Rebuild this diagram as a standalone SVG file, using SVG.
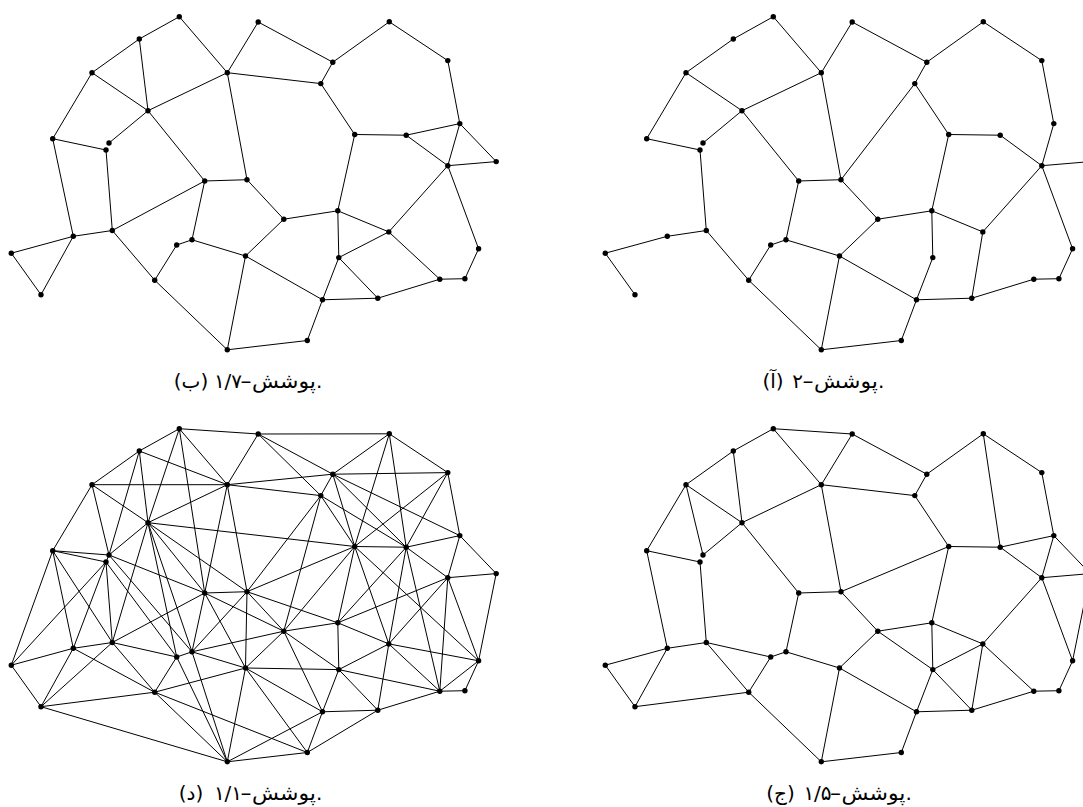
<svg xmlns="http://www.w3.org/2000/svg" width="1083" height="807" viewBox="0 0 1083 807">
<style>
.e line{stroke:#000;stroke-width:1;stroke-linecap:round}
.cap text{font-family:"DejaVu Sans",sans-serif;font-size:20px;fill:#000}
.m{text-anchor:middle}
.s{text-anchor:start}
</style>
<defs>
<circle id="dot" r="2.7" fill="#000"/>
</defs>
<rect width="1083" height="807" fill="#fff"/>

<!-- (b) 1.7 -->
<g id="panel-b">
<g id="edges-b" class="e">
<line x1="179.3" y1="16.7" x2="139.3" y2="39"/><line x1="179.3" y1="16.7" x2="227.3" y2="72.7"/><line x1="139.3" y1="39" x2="92" y2="72.7"/><line x1="139.3" y1="39" x2="148" y2="110.7"/><line x1="92" y1="72.7" x2="148" y2="110.7"/><line x1="92" y1="72.7" x2="52.7" y2="138.7"/><line x1="148" y1="110.7" x2="227.3" y2="72.7"/><line x1="148" y1="110.7" x2="109" y2="143"/><line x1="148" y1="110.7" x2="204.7" y2="181"/><line x1="227.3" y1="72.7" x2="258.2" y2="22"/><line x1="227.3" y1="72.7" x2="247" y2="179.7"/><line x1="227.3" y1="72.7" x2="320.8" y2="83.6"/><line x1="258.2" y1="22" x2="332.8" y2="62.2"/><line x1="332.8" y1="62.2" x2="389.3" y2="21.8"/><line x1="332.8" y1="62.2" x2="320.8" y2="83.6"/><line x1="389.3" y1="21.8" x2="447.8" y2="60.6"/><line x1="447.8" y1="60.6" x2="459.8" y2="123.6"/><line x1="320.8" y1="83.6" x2="354.7" y2="134.5"/><line x1="354.7" y1="134.5" x2="406.2" y2="135.2"/><line x1="406.2" y1="135.2" x2="459.8" y2="123.6"/><line x1="406.2" y1="135.2" x2="447.8" y2="165.7"/><line x1="459.8" y1="123.6" x2="447.8" y2="165.7"/><line x1="459.8" y1="123.6" x2="496.2" y2="161.6"/><line x1="447.8" y1="165.7" x2="496.2" y2="161.6"/><line x1="447.8" y1="165.7" x2="388.8" y2="231.9"/><line x1="447.8" y1="165.7" x2="478.6" y2="248.8"/><line x1="52.7" y1="138.7" x2="106" y2="150"/><line x1="52.7" y1="138.7" x2="73.3" y2="236.3"/><line x1="106" y1="150" x2="112.3" y2="230.5"/><line x1="204.7" y1="181" x2="247" y2="179.7"/><line x1="247" y1="179.7" x2="283.8" y2="219.2"/><line x1="73.3" y1="236.3" x2="112.3" y2="230.5"/><line x1="73.3" y1="236.3" x2="11.3" y2="253.2"/><line x1="73.3" y1="236.3" x2="41" y2="294.7"/><line x1="11.3" y1="253.2" x2="41" y2="294.7"/><line x1="112.3" y1="230.5" x2="204.7" y2="181"/><line x1="112.3" y1="230.5" x2="154.7" y2="280.2"/><line x1="154.7" y1="280.2" x2="176.7" y2="245"/><line x1="176.7" y1="245" x2="192" y2="239.8"/><line x1="192" y1="239.8" x2="204.7" y2="181"/><line x1="192" y1="239.8" x2="245.5" y2="256"/><line x1="245.5" y1="256" x2="227.3" y2="349.8"/><line x1="154.7" y1="280.2" x2="227.3" y2="349.8"/><line x1="227.3" y1="349.8" x2="307.3" y2="340.5"/><line x1="245.5" y1="256" x2="283.8" y2="219.2"/><line x1="245.5" y1="256" x2="322.5" y2="299.8"/><line x1="283.8" y1="219.2" x2="337.8" y2="210.8"/><line x1="337.8" y1="210.8" x2="354.7" y2="134.5"/><line x1="337.8" y1="210.8" x2="388.8" y2="231.9"/><line x1="337.8" y1="210.8" x2="338.8" y2="257.6"/><line x1="388.8" y1="231.9" x2="338.8" y2="257.6"/><line x1="388.8" y1="231.9" x2="439.8" y2="279.2"/><line x1="478.6" y1="248.8" x2="464.9" y2="278.7"/><line x1="464.9" y1="278.7" x2="439.8" y2="279.2"/><line x1="439.8" y1="279.2" x2="377.8" y2="298.2"/><line x1="377.8" y1="298.2" x2="338.8" y2="257.6"/><line x1="338.8" y1="257.6" x2="322.5" y2="299.8"/><line x1="322.5" y1="299.8" x2="377.8" y2="298.2"/><line x1="322.5" y1="299.8" x2="307.3" y2="340.5"/>
</g>
<g id="nodes-b">
<g id="b-A"><use href="#dot" x="179.3" y="16.7"/></g><g id="b-B"><use href="#dot" x="139.3" y="39"/></g><g id="b-C"><use href="#dot" x="92" y="72.7"/></g><g id="b-D"><use href="#dot" x="148" y="110.7"/></g><g id="b-E"><use href="#dot" x="227.3" y="72.7"/></g><g id="b-F"><use href="#dot" x="258.2" y="22"/></g><g id="b-G"><use href="#dot" x="52.7" y="138.7"/></g><g id="b-H"><use href="#dot" x="109" y="143"/></g><g id="b-I"><use href="#dot" x="106" y="150"/></g><g id="b-J"><use href="#dot" x="204.7" y="181"/></g><g id="b-K"><use href="#dot" x="247" y="179.7"/></g><g id="b-L"><use href="#dot" x="332.8" y="62.2"/></g><g id="b-M"><use href="#dot" x="320.8" y="83.6"/></g><g id="b-N"><use href="#dot" x="389.3" y="21.8"/></g><g id="b-O"><use href="#dot" x="447.8" y="60.6"/></g><g id="b-P"><use href="#dot" x="354.7" y="134.5"/></g><g id="b-Q"><use href="#dot" x="406.2" y="135.2"/></g><g id="b-R"><use href="#dot" x="459.8" y="123.6"/></g><g id="b-S"><use href="#dot" x="447.8" y="165.7"/></g><g id="b-T"><use href="#dot" x="496.2" y="161.6"/></g><g id="b-U"><use href="#dot" x="73.3" y="236.3"/></g><g id="b-V"><use href="#dot" x="112.3" y="230.5"/></g><g id="b-W"><use href="#dot" x="11.3" y="253.2"/></g><g id="b-X"><use href="#dot" x="41" y="294.7"/></g><g id="b-Y"><use href="#dot" x="192" y="239.8"/></g><g id="b-Z"><use href="#dot" x="176.7" y="245"/></g><g id="b-AA"><use href="#dot" x="154.7" y="280.2"/></g><g id="b-AB"><use href="#dot" x="245.5" y="256"/></g><g id="b-AC"><use href="#dot" x="227.3" y="349.8"/></g><g id="b-AD"><use href="#dot" x="283.8" y="219.2"/></g><g id="b-AE"><use href="#dot" x="337.8" y="210.8"/></g><g id="b-AF"><use href="#dot" x="388.8" y="231.9"/></g><g id="b-AG"><use href="#dot" x="338.8" y="257.6"/></g><g id="b-AH"><use href="#dot" x="478.6" y="248.8"/></g><g id="b-AI"><use href="#dot" x="439.8" y="279.2"/></g><g id="b-AJ"><use href="#dot" x="464.9" y="278.7"/></g><g id="b-AK"><use href="#dot" x="322.5" y="299.8"/></g><g id="b-AL"><use href="#dot" x="377.8" y="298.2"/></g><g id="b-AM"><use href="#dot" x="307.3" y="340.5"/></g>
</g>
<g id="caption-b" class="cap">
<text class="m" x="191" y="388">(ب)</text><text class="m" x="228" y="388">۱/۷</text><text class="s" x="240" y="388" textLength="12" lengthAdjust="spacingAndGlyphs">-</text><text class="s" x="252" y="388" textLength="64" lengthAdjust="spacingAndGlyphs">پوشش</text><text class="s" x="316" y="388">.</text>
</g>
</g>

<!-- (a) 2 -->
<g id="panel-a">
<g id="edges-a" class="e" transform="translate(594,0)">
<line x1="179.3" y1="16.7" x2="139.3" y2="39"/><line x1="179.3" y1="16.7" x2="227.3" y2="72.7"/><line x1="139.3" y1="39" x2="92" y2="72.7"/><line x1="92" y1="72.7" x2="148" y2="110.7"/><line x1="92" y1="72.7" x2="52.7" y2="138.7"/><line x1="148" y1="110.7" x2="227.3" y2="72.7"/><line x1="148" y1="110.7" x2="109" y2="143"/><line x1="148" y1="110.7" x2="204.7" y2="181"/><line x1="227.3" y1="72.7" x2="258.2" y2="22"/><line x1="227.3" y1="72.7" x2="247" y2="179.7"/><line x1="258.2" y1="22" x2="332.8" y2="62.2"/><line x1="332.8" y1="62.2" x2="389.3" y2="21.8"/><line x1="332.8" y1="62.2" x2="320.8" y2="83.6"/><line x1="389.3" y1="21.8" x2="447.8" y2="60.6"/><line x1="447.8" y1="60.6" x2="459.8" y2="123.6"/><line x1="320.8" y1="83.6" x2="354.7" y2="134.5"/><line x1="320.8" y1="83.6" x2="247" y2="179.7"/><line x1="354.7" y1="134.5" x2="406.2" y2="135.2"/><line x1="406.2" y1="135.2" x2="447.8" y2="165.7"/><line x1="459.8" y1="123.6" x2="447.8" y2="165.7"/><line x1="447.8" y1="165.7" x2="496.2" y2="161.6"/><line x1="447.8" y1="165.7" x2="388.8" y2="231.9"/><line x1="447.8" y1="165.7" x2="478.6" y2="248.8"/><line x1="52.7" y1="138.7" x2="106" y2="150"/><line x1="106" y1="150" x2="112.3" y2="230.5"/><line x1="204.7" y1="181" x2="247" y2="179.7"/><line x1="204.7" y1="181" x2="192" y2="239.8"/><line x1="192" y1="239.8" x2="176.7" y2="245"/><line x1="176.7" y1="245" x2="154.7" y2="280.2"/><line x1="192" y1="239.8" x2="245.5" y2="256"/><line x1="154.7" y1="280.2" x2="112.3" y2="230.5"/><line x1="112.3" y1="230.5" x2="73.3" y2="236.3"/><line x1="73.3" y1="236.3" x2="11.3" y2="253.2"/><line x1="11.3" y1="253.2" x2="41" y2="294.7"/><line x1="154.7" y1="280.2" x2="227.3" y2="349.8"/><line x1="227.3" y1="349.8" x2="245.5" y2="256"/><line x1="227.3" y1="349.8" x2="307.3" y2="340.5"/><line x1="247" y1="179.7" x2="283.8" y2="219.2"/><line x1="354.7" y1="134.5" x2="337.8" y2="210.8"/><line x1="283.8" y1="219.2" x2="337.8" y2="210.8"/><line x1="337.8" y1="210.8" x2="388.8" y2="231.9"/><line x1="337.8" y1="210.8" x2="338.8" y2="257.6"/><line x1="338.8" y1="257.6" x2="322.5" y2="299.8"/><line x1="245.5" y1="256" x2="283.8" y2="219.2"/><line x1="245.5" y1="256" x2="322.5" y2="299.8"/><line x1="322.5" y1="299.8" x2="377.8" y2="298.2"/><line x1="388.8" y1="231.9" x2="377.8" y2="298.2"/><line x1="377.8" y1="298.2" x2="439.8" y2="279.2"/><line x1="439.8" y1="279.2" x2="464.9" y2="278.7"/><line x1="464.9" y1="278.7" x2="478.6" y2="248.8"/><line x1="322.5" y1="299.8" x2="307.3" y2="340.5"/>
</g>
<g id="nodes-a" transform="translate(594,0)">
<g id="a-A"><use href="#dot" x="179.3" y="16.7"/></g><g id="a-B"><use href="#dot" x="139.3" y="39"/></g><g id="a-C"><use href="#dot" x="92" y="72.7"/></g><g id="a-D"><use href="#dot" x="148" y="110.7"/></g><g id="a-E"><use href="#dot" x="227.3" y="72.7"/></g><g id="a-F"><use href="#dot" x="258.2" y="22"/></g><g id="a-G"><use href="#dot" x="52.7" y="138.7"/></g><g id="a-H"><use href="#dot" x="109" y="143"/></g><g id="a-I"><use href="#dot" x="106" y="150"/></g><g id="a-J"><use href="#dot" x="204.7" y="181"/></g><g id="a-K"><use href="#dot" x="247" y="179.7"/></g><g id="a-L"><use href="#dot" x="332.8" y="62.2"/></g><g id="a-M"><use href="#dot" x="320.8" y="83.6"/></g><g id="a-N"><use href="#dot" x="389.3" y="21.8"/></g><g id="a-O"><use href="#dot" x="447.8" y="60.6"/></g><g id="a-P"><use href="#dot" x="354.7" y="134.5"/></g><g id="a-Q"><use href="#dot" x="406.2" y="135.2"/></g><g id="a-R"><use href="#dot" x="459.8" y="123.6"/></g><g id="a-S"><use href="#dot" x="447.8" y="165.7"/></g><g id="a-T"><use href="#dot" x="496.2" y="161.6"/></g><g id="a-U"><use href="#dot" x="73.3" y="236.3"/></g><g id="a-V"><use href="#dot" x="112.3" y="230.5"/></g><g id="a-W"><use href="#dot" x="11.3" y="253.2"/></g><g id="a-X"><use href="#dot" x="41" y="294.7"/></g><g id="a-Y"><use href="#dot" x="192" y="239.8"/></g><g id="a-Z"><use href="#dot" x="176.7" y="245"/></g><g id="a-AA"><use href="#dot" x="154.7" y="280.2"/></g><g id="a-AB"><use href="#dot" x="245.5" y="256"/></g><g id="a-AC"><use href="#dot" x="227.3" y="349.8"/></g><g id="a-AD"><use href="#dot" x="283.8" y="219.2"/></g><g id="a-AE"><use href="#dot" x="337.8" y="210.8"/></g><g id="a-AF"><use href="#dot" x="388.8" y="231.9"/></g><g id="a-AG"><use href="#dot" x="338.8" y="257.6"/></g><g id="a-AH"><use href="#dot" x="478.6" y="248.8"/></g><g id="a-AI"><use href="#dot" x="439.8" y="279.2"/></g><g id="a-AJ"><use href="#dot" x="464.9" y="278.7"/></g><g id="a-AK"><use href="#dot" x="322.5" y="299.8"/></g><g id="a-AL"><use href="#dot" x="377.8" y="298.2"/></g><g id="a-AM"><use href="#dot" x="307.3" y="340.5"/></g>
</g>
<g id="caption-a" class="cap">
<text class="m" x="773" y="388">(آ)</text><text class="m" x="797.5" y="388">۲</text><text class="s" x="802" y="388" textLength="12" lengthAdjust="spacingAndGlyphs">-</text><text class="s" x="814" y="388" textLength="64" lengthAdjust="spacingAndGlyphs">پوشش</text><text class="s" x="878" y="388">.</text>
</g>
</g>

<!-- (j) 1.5 -->
<g id="panel-j">
<g id="edges-j" class="e" transform="translate(594,412)">
<line x1="179.3" y1="16.7" x2="258.2" y2="22"/><line x1="179.3" y1="16.7" x2="139.3" y2="39"/><line x1="179.3" y1="16.7" x2="227.3" y2="72.7"/><line x1="139.3" y1="39" x2="92" y2="72.7"/><line x1="139.3" y1="39" x2="148" y2="110.7"/><line x1="92" y1="72.7" x2="148" y2="110.7"/><line x1="92" y1="72.7" x2="52.7" y2="138.7"/><line x1="92" y1="72.7" x2="109" y2="143"/><line x1="148" y1="110.7" x2="109" y2="143"/><line x1="148" y1="110.7" x2="227.3" y2="72.7"/><line x1="148" y1="110.7" x2="204.7" y2="181"/><line x1="52.7" y1="138.7" x2="106" y2="150"/><line x1="106" y1="150" x2="112.3" y2="230.5"/><line x1="52.7" y1="138.7" x2="73.3" y2="236.3"/><line x1="73.3" y1="236.3" x2="11.3" y2="253.2"/><line x1="11.3" y1="253.2" x2="41" y2="294.7"/><line x1="73.3" y1="236.3" x2="41" y2="294.7"/><line x1="73.3" y1="236.3" x2="112.3" y2="230.5"/><line x1="112.3" y1="230.5" x2="176.7" y2="245"/><line x1="112.3" y1="230.5" x2="154.7" y2="280.2"/><line x1="41" y1="294.7" x2="154.7" y2="280.2"/><line x1="154.7" y1="280.2" x2="176.7" y2="245"/><line x1="176.7" y1="245" x2="192" y2="239.8"/><line x1="192" y1="239.8" x2="204.7" y2="181"/><line x1="204.7" y1="181" x2="247" y2="179.7"/><line x1="227.3" y1="72.7" x2="247" y2="179.7"/><line x1="227.3" y1="72.7" x2="320.8" y2="83.6"/><line x1="227.3" y1="72.7" x2="258.2" y2="22"/><line x1="192" y1="239.8" x2="245.5" y2="256"/><line x1="154.7" y1="280.2" x2="227.3" y2="349.8"/><line x1="227.3" y1="349.8" x2="245.5" y2="256"/><line x1="227.3" y1="349.8" x2="307.3" y2="340.5"/><line x1="258.2" y1="22" x2="332.8" y2="62.2"/><line x1="332.8" y1="62.2" x2="389.3" y2="21.8"/><line x1="389.3" y1="21.8" x2="447.8" y2="60.6"/><line x1="389.3" y1="21.8" x2="406.2" y2="135.2"/><line x1="447.8" y1="60.6" x2="459.8" y2="123.6"/><line x1="332.8" y1="62.2" x2="320.8" y2="83.6"/><line x1="320.8" y1="83.6" x2="354.7" y2="134.5"/><line x1="354.7" y1="134.5" x2="406.2" y2="135.2"/><line x1="406.2" y1="135.2" x2="459.8" y2="123.6"/><line x1="406.2" y1="135.2" x2="447.8" y2="165.7"/><line x1="459.8" y1="123.6" x2="447.8" y2="165.7"/><line x1="459.8" y1="123.6" x2="496.2" y2="161.6"/><line x1="447.8" y1="165.7" x2="496.2" y2="161.6"/><line x1="354.7" y1="134.5" x2="247" y2="179.7"/><line x1="247" y1="179.7" x2="283.8" y2="219.2"/><line x1="283.8" y1="219.2" x2="337.8" y2="210.8"/><line x1="354.7" y1="134.5" x2="337.8" y2="210.8"/><line x1="337.8" y1="210.8" x2="388.8" y2="231.9"/><line x1="388.8" y1="231.9" x2="447.8" y2="165.7"/><line x1="447.8" y1="165.7" x2="478.6" y2="248.8"/><line x1="496.2" y1="161.6" x2="478.6" y2="248.8"/><line x1="283.8" y1="219.2" x2="338.8" y2="257.6"/><line x1="337.8" y1="210.8" x2="338.8" y2="257.6"/><line x1="338.8" y1="257.6" x2="388.8" y2="231.9"/><line x1="338.8" y1="257.6" x2="377.8" y2="298.2"/><line x1="338.8" y1="257.6" x2="322.5" y2="299.8"/><line x1="388.8" y1="231.9" x2="377.8" y2="298.2"/><line x1="388.8" y1="231.9" x2="439.8" y2="279.2"/><line x1="439.8" y1="279.2" x2="464.9" y2="278.7"/><line x1="464.9" y1="278.7" x2="478.6" y2="248.8"/><line x1="377.8" y1="298.2" x2="439.8" y2="279.2"/><line x1="322.5" y1="299.8" x2="377.8" y2="298.2"/><line x1="245.5" y1="256" x2="283.8" y2="219.2"/><line x1="245.5" y1="256" x2="322.5" y2="299.8"/><line x1="322.5" y1="299.8" x2="307.3" y2="340.5"/>
</g>
<g id="nodes-j" transform="translate(594,412)">
<g id="j-A"><use href="#dot" x="179.3" y="16.7"/></g><g id="j-B"><use href="#dot" x="139.3" y="39"/></g><g id="j-C"><use href="#dot" x="92" y="72.7"/></g><g id="j-D"><use href="#dot" x="148" y="110.7"/></g><g id="j-E"><use href="#dot" x="227.3" y="72.7"/></g><g id="j-F"><use href="#dot" x="258.2" y="22"/></g><g id="j-G"><use href="#dot" x="52.7" y="138.7"/></g><g id="j-H"><use href="#dot" x="109" y="143"/></g><g id="j-I"><use href="#dot" x="106" y="150"/></g><g id="j-J"><use href="#dot" x="204.7" y="181"/></g><g id="j-K"><use href="#dot" x="247" y="179.7"/></g><g id="j-L"><use href="#dot" x="332.8" y="62.2"/></g><g id="j-M"><use href="#dot" x="320.8" y="83.6"/></g><g id="j-N"><use href="#dot" x="389.3" y="21.8"/></g><g id="j-O"><use href="#dot" x="447.8" y="60.6"/></g><g id="j-P"><use href="#dot" x="354.7" y="134.5"/></g><g id="j-Q"><use href="#dot" x="406.2" y="135.2"/></g><g id="j-R"><use href="#dot" x="459.8" y="123.6"/></g><g id="j-S"><use href="#dot" x="447.8" y="165.7"/></g><g id="j-T"><use href="#dot" x="496.2" y="161.6"/></g><g id="j-U"><use href="#dot" x="73.3" y="236.3"/></g><g id="j-V"><use href="#dot" x="112.3" y="230.5"/></g><g id="j-W"><use href="#dot" x="11.3" y="253.2"/></g><g id="j-X"><use href="#dot" x="41" y="294.7"/></g><g id="j-Y"><use href="#dot" x="192" y="239.8"/></g><g id="j-Z"><use href="#dot" x="176.7" y="245"/></g><g id="j-AA"><use href="#dot" x="154.7" y="280.2"/></g><g id="j-AB"><use href="#dot" x="245.5" y="256"/></g><g id="j-AC"><use href="#dot" x="227.3" y="349.8"/></g><g id="j-AD"><use href="#dot" x="283.8" y="219.2"/></g><g id="j-AE"><use href="#dot" x="337.8" y="210.8"/></g><g id="j-AF"><use href="#dot" x="388.8" y="231.9"/></g><g id="j-AG"><use href="#dot" x="338.8" y="257.6"/></g><g id="j-AH"><use href="#dot" x="478.6" y="248.8"/></g><g id="j-AI"><use href="#dot" x="439.8" y="279.2"/></g><g id="j-AJ"><use href="#dot" x="464.9" y="278.7"/></g><g id="j-AK"><use href="#dot" x="322.5" y="299.8"/></g><g id="j-AL"><use href="#dot" x="377.8" y="298.2"/></g><g id="j-AM"><use href="#dot" x="307.3" y="340.5"/></g>
</g>
<g id="caption-j" class="cap">
<text class="m" x="780.5" y="800">(ج)</text><text class="m" x="817.5" y="800">۱/۵</text><text class="s" x="829.5" y="800" textLength="12" lengthAdjust="spacingAndGlyphs">-</text><text class="s" x="841.5" y="800" textLength="64" lengthAdjust="spacingAndGlyphs">پوشش</text><text class="s" x="905.5" y="800">.</text>
</g>
</g>

<!-- (d) 1.1 -->
<g id="panel-d">
<g id="edges-d" class="e" transform="translate(0,412)">
<line x1="179.3" y1="16.7" x2="139.3" y2="39"/><line x1="179.3" y1="16.7" x2="227.3" y2="72.7"/><line x1="179.3" y1="16.7" x2="258.2" y2="22"/><line x1="179.3" y1="16.7" x2="148" y2="110.7"/><line x1="179.3" y1="16.7" x2="204.7" y2="181"/>
<line x1="139.3" y1="39" x2="92" y2="72.7"/><line x1="139.3" y1="39" x2="148" y2="110.7"/><line x1="139.3" y1="39" x2="227.3" y2="72.7"/><line x1="139.3" y1="39" x2="109" y2="143"/>
<line x1="92" y1="72.7" x2="148" y2="110.7"/><line x1="92" y1="72.7" x2="227.3" y2="72.7"/><line x1="92" y1="72.7" x2="52.7" y2="138.7"/><line x1="92" y1="72.7" x2="109" y2="143"/>
<line x1="148" y1="110.7" x2="227.3" y2="72.7"/><line x1="148" y1="110.7" x2="109" y2="143"/><line x1="148" y1="110.7" x2="204.7" y2="181"/><line x1="148" y1="110.7" x2="247" y2="179.7"/><line x1="148" y1="110.7" x2="112.3" y2="230.5"/><line x1="148" y1="110.7" x2="192" y2="239.8"/><line x1="148" y1="110.7" x2="176.7" y2="245"/><line x1="148" y1="110.7" x2="354.7" y2="134.5"/>
<line x1="227.3" y1="72.7" x2="258.2" y2="22"/><line x1="227.3" y1="72.7" x2="332.8" y2="62.2"/><line x1="227.3" y1="72.7" x2="320.8" y2="83.6"/><line x1="227.3" y1="72.7" x2="204.7" y2="181"/><line x1="227.3" y1="72.7" x2="247" y2="179.7"/>
<line x1="258.2" y1="22" x2="332.8" y2="62.2"/><line x1="258.2" y1="22" x2="320.8" y2="83.6"/><line x1="258.2" y1="22" x2="389.3" y2="21.8"/>
<line x1="52.7" y1="138.7" x2="109" y2="143"/><line x1="52.7" y1="138.7" x2="106" y2="150"/><line x1="52.7" y1="138.7" x2="11.3" y2="253.2"/><line x1="52.7" y1="138.7" x2="73.3" y2="236.3"/><line x1="52.7" y1="138.7" x2="112.3" y2="230.5"/>
<line x1="109" y1="143" x2="106" y2="150"/><line x1="109" y1="143" x2="204.7" y2="181"/><line x1="109" y1="143" x2="192" y2="239.8"/>
<line x1="106" y1="150" x2="176.7" y2="245"/><line x1="106" y1="150" x2="73.3" y2="236.3"/><line x1="106" y1="150" x2="112.3" y2="230.5"/><line x1="106" y1="150" x2="11.3" y2="253.2"/>
<line x1="73.3" y1="236.3" x2="112.3" y2="230.5"/><line x1="73.3" y1="236.3" x2="11.3" y2="253.2"/><line x1="73.3" y1="236.3" x2="41" y2="294.7"/><line x1="73.3" y1="236.3" x2="154.7" y2="280.2"/>
<line x1="11.3" y1="253.2" x2="41" y2="294.7"/><line x1="41" y1="294.7" x2="112.3" y2="230.5"/><line x1="41" y1="294.7" x2="154.7" y2="280.2"/><line x1="41" y1="294.7" x2="227.3" y2="349.8"/>
<line x1="112.3" y1="230.5" x2="154.7" y2="280.2"/><line x1="112.3" y1="230.5" x2="176.7" y2="245"/><line x1="112.3" y1="230.5" x2="204.7" y2="181"/>
<line x1="154.7" y1="280.2" x2="176.7" y2="245"/><line x1="154.7" y1="280.2" x2="227.3" y2="349.8"/><line x1="154.7" y1="280.2" x2="245.5" y2="256"/><line x1="154.7" y1="280.2" x2="307.3" y2="340.5"/>
<line x1="176.7" y1="245" x2="192" y2="239.8"/><line x1="176.7" y1="245" x2="227.3" y2="349.8"/>
<line x1="192" y1="239.8" x2="227.3" y2="349.8"/><line x1="192" y1="239.8" x2="204.7" y2="181"/><line x1="192" y1="239.8" x2="245.5" y2="256"/><line x1="192" y1="239.8" x2="247" y2="179.7"/><line x1="192" y1="239.8" x2="283.8" y2="219.2"/>
<line x1="204.7" y1="181" x2="247" y2="179.7"/><line x1="204.7" y1="181" x2="245.5" y2="256"/><line x1="204.7" y1="181" x2="283.8" y2="219.2"/>
<line x1="247" y1="179.7" x2="283.8" y2="219.2"/><line x1="247" y1="179.7" x2="245.5" y2="256"/><line x1="247" y1="179.7" x2="337.8" y2="210.8"/><line x1="247" y1="179.7" x2="354.7" y2="134.5"/><line x1="247" y1="179.7" x2="320.8" y2="83.6"/>
<line x1="245.5" y1="256" x2="283.8" y2="219.2"/><line x1="245.5" y1="256" x2="227.3" y2="349.8"/><line x1="245.5" y1="256" x2="322.5" y2="299.8"/><line x1="245.5" y1="256" x2="338.8" y2="257.6"/><line x1="245.5" y1="256" x2="307.3" y2="340.5"/>
<line x1="283.8" y1="219.2" x2="337.8" y2="210.8"/><line x1="283.8" y1="219.2" x2="338.8" y2="257.6"/><line x1="283.8" y1="219.2" x2="322.5" y2="299.8"/><line x1="283.8" y1="219.2" x2="354.7" y2="134.5"/><line x1="283.8" y1="219.2" x2="320.8" y2="83.6"/>
<line x1="337.8" y1="210.8" x2="388.8" y2="231.9"/><line x1="337.8" y1="210.8" x2="338.8" y2="257.6"/><line x1="337.8" y1="210.8" x2="354.7" y2="134.5"/><line x1="337.8" y1="210.8" x2="406.2" y2="135.2"/><line x1="337.8" y1="210.8" x2="447.8" y2="165.7"/>
<line x1="388.8" y1="231.9" x2="338.8" y2="257.6"/><line x1="388.8" y1="231.9" x2="377.8" y2="298.2"/><line x1="388.8" y1="231.9" x2="439.8" y2="279.2"/><line x1="388.8" y1="231.9" x2="478.6" y2="248.8"/><line x1="388.8" y1="231.9" x2="354.7" y2="134.5"/><line x1="388.8" y1="231.9" x2="406.2" y2="135.2"/><line x1="388.8" y1="231.9" x2="447.8" y2="165.7"/>
<line x1="338.8" y1="257.6" x2="322.5" y2="299.8"/><line x1="338.8" y1="257.6" x2="377.8" y2="298.2"/><line x1="338.8" y1="257.6" x2="439.8" y2="279.2"/>
<line x1="322.5" y1="299.8" x2="377.8" y2="298.2"/><line x1="322.5" y1="299.8" x2="307.3" y2="340.5"/><line x1="322.5" y1="299.8" x2="227.3" y2="349.8"/>
<line x1="377.8" y1="298.2" x2="307.3" y2="340.5"/><line x1="377.8" y1="298.2" x2="439.8" y2="279.2"/><line x1="307.3" y1="340.5" x2="227.3" y2="349.8"/>
<line x1="439.8" y1="279.2" x2="464.9" y2="278.7"/><line x1="439.8" y1="279.2" x2="478.6" y2="248.8"/><line x1="439.8" y1="279.2" x2="447.8" y2="165.7"/><line x1="439.8" y1="279.2" x2="406.2" y2="135.2"/>
<line x1="464.9" y1="278.7" x2="478.6" y2="248.8"/><line x1="478.6" y1="248.8" x2="496.2" y2="161.6"/><line x1="478.6" y1="248.8" x2="447.8" y2="165.7"/><line x1="478.6" y1="248.8" x2="354.7" y2="134.5"/>
<line x1="332.8" y1="62.2" x2="320.8" y2="83.6"/><line x1="332.8" y1="62.2" x2="389.3" y2="21.8"/><line x1="332.8" y1="62.2" x2="447.8" y2="60.6"/><line x1="332.8" y1="62.2" x2="354.7" y2="134.5"/><line x1="332.8" y1="62.2" x2="406.2" y2="135.2"/><line x1="332.8" y1="62.2" x2="459.8" y2="123.6"/>
<line x1="320.8" y1="83.6" x2="354.7" y2="134.5"/><line x1="320.8" y1="83.6" x2="406.2" y2="135.2"/>
<line x1="389.3" y1="21.8" x2="447.8" y2="60.6"/><line x1="389.3" y1="21.8" x2="354.7" y2="134.5"/><line x1="389.3" y1="21.8" x2="406.2" y2="135.2"/>
<line x1="447.8" y1="60.6" x2="459.8" y2="123.6"/><line x1="447.8" y1="60.6" x2="354.7" y2="134.5"/><line x1="447.8" y1="60.6" x2="406.2" y2="135.2"/>
<line x1="354.7" y1="134.5" x2="406.2" y2="135.2"/><line x1="406.2" y1="135.2" x2="459.8" y2="123.6"/><line x1="406.2" y1="135.2" x2="447.8" y2="165.7"/>
<line x1="459.8" y1="123.6" x2="447.8" y2="165.7"/><line x1="459.8" y1="123.6" x2="496.2" y2="161.6"/><line x1="447.8" y1="165.7" x2="496.2" y2="161.6"/>
</g>
<g id="nodes-d" transform="translate(0,412)">
<g id="d-A"><use href="#dot" x="179.3" y="16.7"/></g><g id="d-B"><use href="#dot" x="139.3" y="39"/></g><g id="d-C"><use href="#dot" x="92" y="72.7"/></g><g id="d-D"><use href="#dot" x="148" y="110.7"/></g><g id="d-E"><use href="#dot" x="227.3" y="72.7"/></g><g id="d-F"><use href="#dot" x="258.2" y="22"/></g><g id="d-G"><use href="#dot" x="52.7" y="138.7"/></g><g id="d-H"><use href="#dot" x="109" y="143"/></g><g id="d-I"><use href="#dot" x="106" y="150"/></g><g id="d-J"><use href="#dot" x="204.7" y="181"/></g><g id="d-K"><use href="#dot" x="247" y="179.7"/></g><g id="d-L"><use href="#dot" x="332.8" y="62.2"/></g><g id="d-M"><use href="#dot" x="320.8" y="83.6"/></g><g id="d-N"><use href="#dot" x="389.3" y="21.8"/></g><g id="d-O"><use href="#dot" x="447.8" y="60.6"/></g><g id="d-P"><use href="#dot" x="354.7" y="134.5"/></g><g id="d-Q"><use href="#dot" x="406.2" y="135.2"/></g><g id="d-R"><use href="#dot" x="459.8" y="123.6"/></g><g id="d-S"><use href="#dot" x="447.8" y="165.7"/></g><g id="d-T"><use href="#dot" x="496.2" y="161.6"/></g><g id="d-U"><use href="#dot" x="73.3" y="236.3"/></g><g id="d-V"><use href="#dot" x="112.3" y="230.5"/></g><g id="d-W"><use href="#dot" x="11.3" y="253.2"/></g><g id="d-X"><use href="#dot" x="41" y="294.7"/></g><g id="d-Y"><use href="#dot" x="192" y="239.8"/></g><g id="d-Z"><use href="#dot" x="176.7" y="245"/></g><g id="d-AA"><use href="#dot" x="154.7" y="280.2"/></g><g id="d-AB"><use href="#dot" x="245.5" y="256"/></g><g id="d-AC"><use href="#dot" x="227.3" y="349.8"/></g><g id="d-AD"><use href="#dot" x="283.8" y="219.2"/></g><g id="d-AE"><use href="#dot" x="337.8" y="210.8"/></g><g id="d-AF"><use href="#dot" x="388.8" y="231.9"/></g><g id="d-AG"><use href="#dot" x="338.8" y="257.6"/></g><g id="d-AH"><use href="#dot" x="478.6" y="248.8"/></g><g id="d-AI"><use href="#dot" x="439.8" y="279.2"/></g><g id="d-AJ"><use href="#dot" x="464.9" y="278.7"/></g><g id="d-AK"><use href="#dot" x="322.5" y="299.8"/></g><g id="d-AL"><use href="#dot" x="377.8" y="298.2"/></g><g id="d-AM"><use href="#dot" x="307.3" y="340.5"/></g>
</g>
<g id="caption-d" class="cap">
<text class="m" x="191" y="800">(د)</text><text class="m" x="228" y="800">۱/۱</text><text class="s" x="240" y="800" textLength="12" lengthAdjust="spacingAndGlyphs">-</text><text class="s" x="252" y="800" textLength="64" lengthAdjust="spacingAndGlyphs">پوشش</text><text class="s" x="316" y="800">.</text>
</g>
</g>
</svg>
